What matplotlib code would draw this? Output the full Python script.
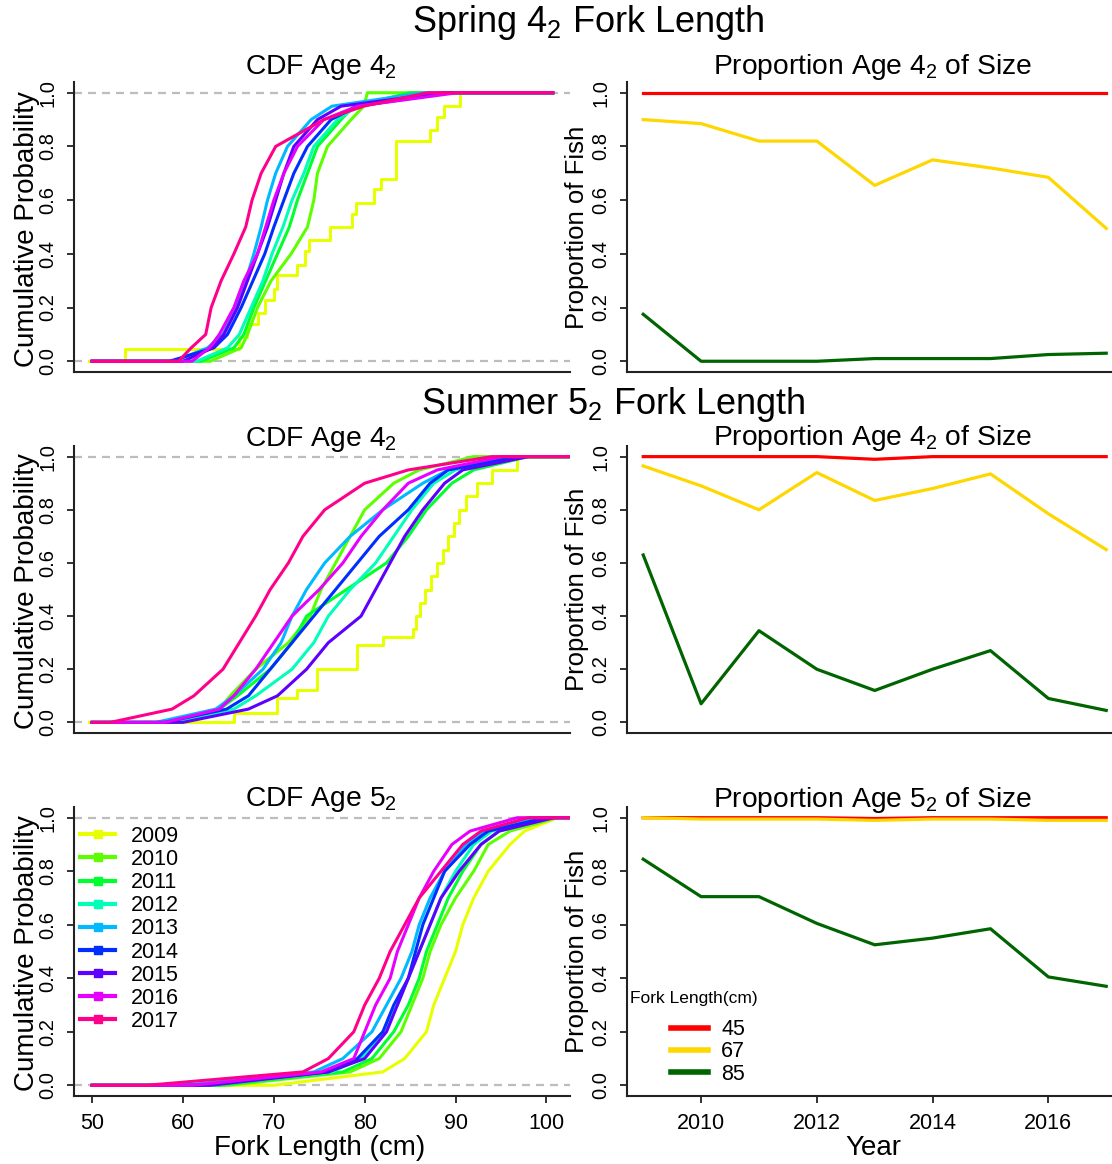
import colorsys
import matplotlib
matplotlib.use("Agg")
import matplotlib.pyplot as plt
from matplotlib.colors import to_hex
from matplotlib.lines import Line2D

plt.rcParams['font.family'] = ['Liberation Sans', 'DejaVu Sans']
plt.rcParams['mathtext.fontset'] = 'custom'
plt.rcParams['mathtext.rm'] = 'Liberation Sans'
plt.rcParams['mathtext.it'] = 'Liberation Sans:italic'

years = [2009, 2010, 2011, 2012, 2013, 2014, 2015, 2016, 2017]
# rainbow(11) without the two reddest hues
year_colors = [to_hex(colorsys.hsv_to_rgb(i / 11, 1, 1)) for i in range(2, 11)]

# ---- CDF curves: fork length (cm) at each cumulative probability level ----
cdf_probs = [0, 0, 0.05, 0.1, 0.2, 0.3, 0.4, 0.5, 0.6, 0.7, 0.8, 0.9, 0.95, 1, 1]

# spring, age 4_2 (2009 sample is small -> drawn as steps)
spring_2009_len = [49.6, 53.6, 66.2, 67.0, 68.2, 69.0, 70.0, 70.4, 72.6, 73.4, 73.9,
                   76.2, 78.6, 79.0, 81.0, 81.8, 83.4, 87.2, 88.0, 88.7, 90.5, 100.7]
spring_2009_prob = [0, 0.045, 0.09, 0.14, 0.18, 0.23, 0.27, 0.32, 0.36, 0.41, 0.45,
                    0.50, 0.55, 0.59, 0.64, 0.68, 0.82, 0.86, 0.91, 0.95, 1.0, 1.0]
spring_age4 = [
    [50, 63.0, 66.4, 67.1, 68.2, 69.7, 71.9, 73.7, 74.4, 74.8, 75.9, 78.5, 79.9, 80.3, 100.7],  # 2010
    [50, 62.0, 65.6, 66.7, 67.8, 69.1, 70.4, 71.7, 72.6, 73.7, 74.8, 77.4, 78.8, 85.0, 100.7],  # 2011
    [50, 61.5, 64.9, 66.2, 67.5, 68.8, 69.8, 71.0, 72.0, 73.3, 74.4, 77.0, 79.2, 86.5, 100.7],  # 2012
    [50, 59.0, 62.7, 64.4, 65.8, 66.9, 67.8, 68.6, 69.3, 70.2, 71.5, 74.1, 76.4, 86.5, 100.7],  # 2013
    [50, 58.5, 63.4, 64.9, 66.4, 67.7, 69.0, 70.0, 71.1, 72.2, 73.7, 76.3, 79.2, 89.4, 100.7],  # 2014
    [50, 60.0, 63.3, 64.5, 66.0, 67.1, 68.2, 69.3, 70.2, 71.1, 72.2, 74.8, 77.4, 88.7, 100.7],  # 2015
    [50, 61.0, 62.9, 64.0, 65.6, 66.7, 68.2, 69.1, 70.0, 71.1, 72.6, 75.5, 79.2, 90.2, 100.7],  # 2016
    [50, 59.5, 60.9, 62.5, 63.1, 64.2, 65.6, 66.9, 67.6, 68.6, 70.2, 75.5, 79.9, 86.9, 100.7],  # 2017
]

# summer, age 4_2
summer4_2009_len = [49.6, 65.6, 70.4, 72.6, 74.8, 79.2, 82.0, 85.3, 85.6, 86.1, 86.6, 87.3,
                    88.0, 88.6, 89.2, 89.8, 90.4, 91.2, 92.4, 94.0, 96.8, 102.6]
summer4_2009_prob = [0, 0.035, 0.09, 0.12, 0.20, 0.29, 0.32, 0.35, 0.40, 0.45, 0.50, 0.55,
                     0.60, 0.65, 0.70, 0.75, 0.80, 0.85, 0.90, 0.95, 1.0, 1.0]
summer_age4 = [
    [50, 58, 64.0, 65.2, 68.0, 71.6, 74.0, 75.2, 76.8, 78.4, 80.0, 83.2, 86.0, 92.0, 102.6],  # 2010
    [50, 58, 64.0, 66.0, 69.6, 72.0, 73.6, 78.0, 82.4, 84.8, 86.8, 89.6, 92.0, 98.0, 102.6],  # 2011
    [50, 59, 65.6, 68.0, 72.0, 74.4, 76.0, 78.4, 81.2, 83.2, 85.2, 87.6, 90.0, 96.8, 102.6],  # 2012
    [50, 57, 63.6, 65.6, 68.8, 70.8, 72.0, 73.6, 75.6, 78.4, 82.0, 86.4, 89.2, 96.0, 102.6],  # 2013
    [50, 58, 64.8, 67.2, 69.6, 72.0, 74.4, 76.8, 79.2, 81.6, 84.8, 87.2, 89.2, 96.8, 102.6],  # 2014
    [50, 60, 67.2, 70.4, 73.6, 76.0, 79.6, 81.2, 82.8, 84.4, 86.4, 88.8, 90.8, 98.0, 102.6],  # 2015
    [50, 58, 64.0, 65.6, 68.0, 70.0, 72.0, 75.0, 77.6, 79.6, 82.0, 84.8, 88.0, 95.2, 102.6],  # 2016
    [50, 52, 58.8, 61.2, 64.4, 66.2, 68.0, 69.6, 71.6, 73.2, 75.6, 80.0, 84.8, 94.0, 102.6],  # 2017
]

# summer, age 5_2
summer_age5 = [
    [50, 70, 82.0, 84.4, 86.8, 87.6, 88.8, 90.0, 90.8, 92.0, 93.6, 96.0, 97.6, 101.2, 102.6],  # 2009
    [50, 65, 78.4, 81.6, 84.0, 85.2, 86.4, 87.2, 88.4, 90.0, 92.0, 93.6, 96.0, 101.2, 102.6],  # 2010
    [50, 64, 77.6, 80.8, 83.2, 84.8, 86.0, 86.8, 88.0, 89.2, 90.8, 92.8, 94.8, 100.8, 102.6],  # 2011
    [50, 62, 76.4, 79.6, 82.0, 83.6, 84.8, 86.0, 87.2, 88.4, 90.0, 92.0, 94.0, 100.0, 102.6],  # 2012
    [50, 60, 74.4, 77.6, 80.8, 82.4, 84.0, 85.2, 86.0, 87.2, 88.8, 91.2, 93.2, 99.2, 102.6],   # 2013
    [50, 62, 76.0, 79.2, 82.0, 83.2, 84.8, 85.6, 86.4, 87.6, 88.8, 91.6, 93.6, 100.0, 102.6],  # 2014
    [50, 63, 76.0, 80.0, 82.4, 83.6, 84.8, 86.0, 87.2, 88.4, 90.4, 92.8, 94.8, 100.8, 102.6],  # 2015
    [50, 61, 75.2, 78.8, 80.0, 81.2, 82.8, 83.6, 84.8, 86.0, 87.6, 89.6, 91.6, 96.8, 102.6],   # 2016
    [50, 56, 73.2, 76.0, 78.8, 80.0, 81.6, 82.8, 84.4, 86.0, 88.4, 90.8, 92.8, 98.0, 102.6],   # 2017
]

# ---- proportion of fish at age by fork length threshold ----
size_labels = ['45', '67', '85']
size_colors = ['#FF0000', '#FFD700', '#006400']

spring_45 = [1, 1, 1, 1, 1, 1, 1, 1, 1]
spring_67 = [0.90, 0.885, 0.82, 0.82, 0.655, 0.75, 0.72, 0.685, 0.495]
spring_85 = [0.175, 0.0, 0.0, 0.0, 0.01, 0.01, 0.01, 0.025, 0.03]

summer4_45 = [1, 1, 1, 1, 0.99, 1, 1, 1, 1]
summer4_67 = [0.965, 0.89, 0.80, 0.94, 0.835, 0.88, 0.935, 0.785, 0.65]
summer4_85 = [0.63, 0.07, 0.345, 0.20, 0.12, 0.20, 0.27, 0.09, 0.045]

summer5_45 = [1, 1, 1, 1, 0.997, 1, 1, 1, 1]
summer5_67 = [1.0, 0.995, 0.995, 0.995, 0.99, 0.995, 0.995, 0.99, 0.99]
summer5_85 = [0.845, 0.705, 0.705, 0.605, 0.525, 0.55, 0.585, 0.405, 0.37]

W, H = 1112, 1164
fig = plt.figure(figsize=(W / 100, H / 100), dpi=100)


def px_box(left, top, right, bottom):
    return [left / W, 1 - bottom / H, (right - left) / W, (bottom - top) / H]


def style_axes(ax, show_x):
    for side in ('top', 'right'):
        ax.spines[side].set_visible(False)
    for side in ('left', 'bottom'):
        ax.spines[side].set_linewidth(1.5)
        ax.spines[side].set_color('#222222')
    ax.set_ylim(-0.04, 1.04)
    ax.set_yticks([0, 0.2, 0.4, 0.6, 0.8, 1.0])
    ax.set_yticklabels(['0.0', '0.2', '0.4', '0.6', '0.8', '1.0'])
    ax.tick_params(direction='out', length=5, width=1.3, color='#222222',
                   labelsize=14.5, pad=7)
    ax.tick_params(axis='x', labelsize=15.5)
    for lab in ax.get_yticklabels():
        lab.set_rotation(90)
        lab.set_va('center')
    if not show_x:
        ax.set_xticks([])


def cdf_panel(ax, rows, step_first=None):
    ax.axhline(0, color='#BDBDBD', lw=1.6, ls=(0, (3.6, 2.7)), zorder=0)
    ax.axhline(1, color='#BDBDBD', lw=1.6, ls=(0, (3.6, 2.7)), zorder=0)
    offset = 0
    if step_first is not None:
        ax.step(step_first[0], step_first[1], where='post', color=year_colors[0], lw=2.2)
        offset = 1
    for k, lengths in enumerate(rows):
        ax.plot(lengths, cdf_probs, color=year_colors[k + offset], lw=2.2)
    ax.set_xlim(48.0, 102.6)


def prop_panel(ax, p45, p67, p85):
    for vals, col in zip((p45, p67, p85), size_colors):
        ax.plot(years, vals, color=col, lw=2.3)
    ax.set_xlim(2008.72, 2017.1)


rows_px = [(82, 372), (446, 733), (807, 1096)]
left_px = (74, 570)
right_px = (627, 1112)

axes_left = [fig.add_axes(px_box(left_px[0], t, left_px[1], b)) for t, b in rows_px]
axes_right = [fig.add_axes(px_box(right_px[0], t, right_px[1], b)) for t, b in rows_px]

cdf_panel(axes_left[0], spring_age4, (spring_2009_len, spring_2009_prob))
cdf_panel(axes_left[1], summer_age4, (summer4_2009_len, summer4_2009_prob))
cdf_panel(axes_left[2], summer_age5)

prop_panel(axes_right[0], spring_45, spring_67, spring_85)
prop_panel(axes_right[1], summer4_45, summer4_67, summer4_85)
prop_panel(axes_right[2], summer5_45, summer5_67, summer5_85)

axes_left[2].set_xticks([50, 60, 70, 80, 90, 100])
axes_right[2].set_xticks([2010, 2012, 2014, 2016])
for i, ax in enumerate(axes_left + axes_right):
    style_axes(ax, show_x=(i % 3 == 2))


# titles and axis labels
def ftext(x, y, s, size, **kw):
    fig.text(x / W, 1 - y / H, s, ha='center', va='center', fontsize=size, **kw)


ftext(588, 22, r'Spring $\mathregular{4_2}$ Fork Length', 26)
ftext(613, 405, r'Summer $\mathregular{5_2}$ Fork Length', 26)
ftext(321, 67, r'CDF Age $\mathregular{4_2}$', 20.3)
ftext(873, 67, r'Proportion Age $\mathregular{4_2}$ of Size', 20.3)
ftext(321, 440, r'CDF Age $\mathregular{4_2}$', 20.3)
ftext(873, 438, r'Proportion Age $\mathregular{4_2}$ of Size', 20.3)
ftext(321, 800, r'CDF Age $\mathregular{5_2}$', 20.3)
ftext(873, 800, r'Proportion Age $\mathregular{5_2}$ of Size', 20.3)

for t, b in rows_px:
    ftext(27, (t + b) / 2 + 2, 'Cumulative Probability', 20, rotation=90)
    ftext(577, (t + b) / 2, 'Proportion of Fish', 18.5, rotation=90)
ftext(320, 1148, 'Fork Length (cm)', 20)
ftext(873, 1148, 'Year', 20)

# year legend
year_handles = [Line2D([], [], color=c, lw=3, marker='s', ms=6) for c in year_colors]
axes_left[2].legend(year_handles, [str(y) for y in years], loc='upper left',
                    bbox_to_anchor=(0.012, 0.935), frameon=False, fontsize=15.5,
                    handlelength=1.65, handletextpad=0.7, labelspacing=0.1,
                    borderpad=0, borderaxespad=0)

# fork length legend
axr = axes_right[2]
axr.text(0.006, 0.336, 'Fork Length(cm)', transform=axr.transAxes, fontsize=12.5,
         ha='left', va='center')
size_handles = [Line2D([], [], color=c, lw=4) for c in size_colors]
axr.legend(size_handles, size_labels, loc='upper left', bbox_to_anchor=(0.091, 0.265),
           frameon=False, fontsize=15.5, handlelength=1.7, handletextpad=0.63,
           labelspacing=0.05, borderpad=0, borderaxespad=0)

fig.savefig('out.png', dpi=100)
